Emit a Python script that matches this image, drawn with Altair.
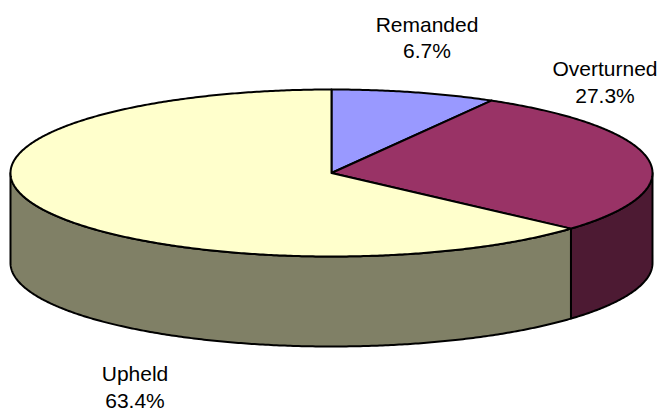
import math
import altair as alt

categories = ["Remanded", "Overturned", "Upheld"]
labels = ["6.7%", "27.3%", "63.4%"]
# Share of the circle each slice actually occupies in the picture (percent).
drawn_shares = [8.3, 28.3, 63.4]
top_colors = ["#9999FF", "#993366", "#FFFFCC"]
side_colors = ["#4D4D80", "#4D1A33", "#808066"]

TILT = 83.5 / 321
DEPTH = 90 / 321


def rim(t0, t1, drop=0.0):
    n = max(2, int(abs(t1 - t0) * 2) + 1)
    out = []
    for i in range(n):
        t = math.radians(t0 + (t1 - t0) * i / (n - 1))
        out.append([math.sin(t), TILT * math.cos(t) - drop])
    return out


def feature(ring):
    return {"type": "Feature", "properties": {},
            "geometry": {"type": "Polygon", "coordinates": [ring + [ring[0]]]}}


proj = dict(type="identity", reflectY=True, scale=321, translate=[323.5, 165])

layers = []


def add_shape(ring, fill):
    layers.append(
        alt.Chart(alt.Data(values=[feature(ring)], format=alt.DataFormat(type="json")))
        .mark_geoshape(fill=fill, stroke="black", strokeWidth=2, strokeJoin="round")
        .project(**proj)
    )


start = 0.0
spans = []
for s in drawn_shares:
    spans.append((start, start + s * 3.6))
    start += s * 3.6

# Rim walls: only the front half of the cake (90 to 270 degrees) is visible.
for (a, b), c in zip(spans, side_colors):
    lo, hi = max(a, 90), min(b, 270)
    if lo < hi:
        add_shape(rim(lo, hi) + rim(hi, lo, DEPTH), c)

# Top faces
for (a, b), c in zip(spans, top_colors):
    add_shape([[0, 0]] + rim(a, b), c)

# Labels: (centre x, first baseline y, second baseline y) in page px
anchors = [(427, 32, 58), (605, 76, 103), (135, 381, 408)]
rows = []
for cat, lab, (px, y1, y2) in zip(categories, labels, anchors):
    for txt, py in ((cat, y1), (lab, y2)):
        rows.append({"t": txt, "lon": (px - 331.5) / 321, "lat": (173 - py) / 321})

layers.append(
    alt.Chart(alt.Data(values=rows))
    .mark_text(font="Liberation Sans", fontSize=21, color="black",
               align="center", baseline="alphabetic")
    .encode(longitude="lon:Q", latitude="lat:Q", text="t:N")
    .project(**proj)
)

chart = (
    alt.layer(*layers)
    .properties(width=650, height=405, padding=0, autosize=alt.AutoSizeParams(type="none"),
                background="white")
    .configure_view(stroke=None)
)
chart.save("out.html", embed_options={"renderer": "svg", "actions": False})
